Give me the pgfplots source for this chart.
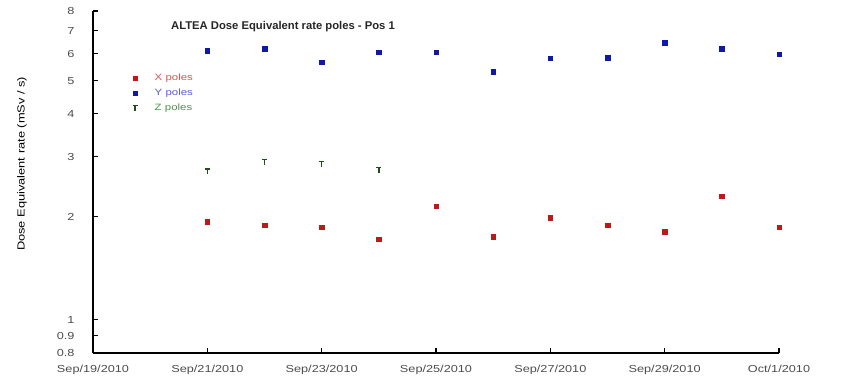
\documentclass[border=0pt]{standalone}
\usepackage{pgfplots}
\pgfplotsset{compat=1.18}
\usepackage{fontspec}
\setmainfont{Liberation Sans}
\newfontfamily\wide{Liberation Sans}[FakeStretch=1.25]
\definecolor{cX}{RGB}{190,25,25}
\definecolor{cY}{RGB}{15,25,165}
\definecolor{cZ}{RGB}{35,75,30}
\definecolor{tX}{RGB}{220,80,80}
\definecolor{tY}{RGB}{90,90,215}
\definecolor{tZ}{RGB}{70,150,70}
\pgfdeclareplotmark{tee}{%
  \pgfpathmoveto{\pgfqpoint{-\pgfplotmarksize}{\pgfplotmarksize}}%
  \pgfpathlineto{\pgfqpoint{\pgfplotmarksize}{\pgfplotmarksize}}%
  \pgfpathmoveto{\pgfqpoint{0pt}{\pgfplotmarksize}}%
  \pgfpathlineto{\pgfqpoint{0pt}{-\pgfplotmarksize}}%
  \pgfusepathqstroke}
\begin{document}
\begin{tikzpicture}
\path[use as bounding box] (-93bp,-25bp) rectangle (771bp,353bp);
\begin{axis}[
  scale only axis, width=686bp, height=342bp,
  at={(0,0)}, anchor=south west,
  ymode=log, ymin=0.8, ymax=8,
  xmin=0, xmax=12,
  axis x line*=bottom, axis y line*=left,
  axis line style={-, line width=1.1bp},
  tick style={line width=1.1bp, black},
  tick align=inside, major tick length=5bp,
  minor tick num=0,
  xtick={0,2,4,6,8,10,12},
  xticklabels={Sep/19/2010,Sep/21/2010,Sep/23/2010,Sep/25/2010,Sep/27/2010,Sep/29/2010,Oct/1/2010},
  ytick={0.8,0.9,1,2,3,4,5,6,7,8},
  yticklabels={0.8,0.9,1,2,3,4,5,6,7,8},
  log ticks with fixed point,
  yminorticks=false,
  tick label style={font=\wide\fontsize{10.2}{12}\selectfont, text=black!70},
  xticklabel style={yshift=-9bp},
  yticklabel style={xshift=-15bp},
  ylabel={Dose Equivalent rate (mSv / s)},
  ylabel style={at={(axis description cs:-0.1035,0.553)}, anchor=center, font=\wide\fontsize{10.3}{12}\selectfont},
  clip=false,
  legend style={at={(axis description cs:0.053,0.828)}, anchor=north west, draw=none, fill=none,
    font=\wide\fontsize{9.2}{10}\selectfont, row sep=3bp},
  legend cell align=left,
]
\addplot[only marks, mark=square*, mark size=2.3bp, color=cX] coordinates {
 (2,1.94) (3,1.89) (4,1.865) (5,1.72) (6,2.15) (7,1.75) (8,1.99) (9,1.89) (10,1.81) (11,2.30) (12,1.865)};
\addlegendentry{\hspace{15bp}\textcolor{tX}{X poles}}
\addplot[only marks, mark=square*, mark size=2.3bp, color=cY] coordinates {
 (2,6.12) (3,6.2) (4,5.67) (5,6.06) (6,6.06) (7,5.32) (8,5.82) (9,5.83) (10,6.46) (11,6.2) (12,5.98)};
\addlegendentry{\hspace{15bp}\textcolor{tY}{Y poles}}
\addplot[only marks, mark=tee, mark size=2.6bp, mark options={line width=1.5bp}, color=cZ] coordinates {
 (2,2.71) (3,2.89) (4,2.85) (5,2.74)};
\addlegendentry{\hspace{15bp}\textcolor{tZ}{Z poles}}
\node[font=\bfseries\fontsize{11.3}{13}\selectfont, text=black!85] at (axis description cs:0.277,0.953) {ALTEA Dose Equivalent rate poles - Pos 1};
\end{axis}
\end{tikzpicture}
\end{document}
